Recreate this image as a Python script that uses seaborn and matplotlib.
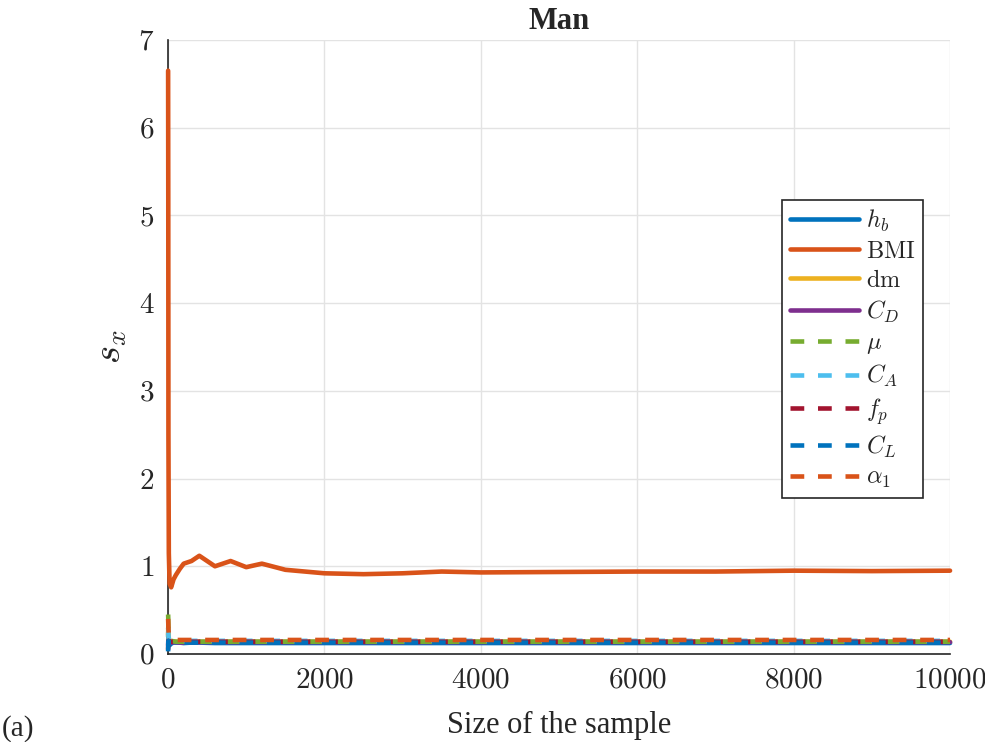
import numpy as np
import pandas as pd
import seaborn as sns
import matplotlib
matplotlib.use("Agg")
import matplotlib.pyplot as plt
from matplotlib.ticker import FuncFormatter, MultipleLocator

# Sample sizes at which the running standard deviation was recorded
sample_size = [1, 3, 5, 10, 20, 40, 70, 100, 150, 200, 300, 400, 600, 800, 1000,
               1200, 1500, 2000, 2500, 3000, 3500, 4000, 5000, 6000, 7000, 8000,
               9000, 10000]

# Running standard deviation s_x for each input variable
s_hb = [0.20, 0.25, 0.18, 0.12, 0.10, 0.12, 0.13, 0.13, 0.13, 0.125, 0.13, 0.13,
        0.125, 0.125, 0.125, 0.125, 0.125, 0.125, 0.125, 0.125, 0.125, 0.125,
        0.125, 0.125, 0.125, 0.125, 0.125, 0.125]
s_bmi = [6.65, 5.20, 2.50, 1.15, 0.80, 0.76, 0.85, 0.90, 0.97, 1.03, 1.06, 1.12,
         1.00, 1.06, 0.99, 1.03, 0.96, 0.92, 0.91, 0.92, 0.94, 0.93, 0.935,
         0.94, 0.94, 0.95, 0.945, 0.95]
s_dm = [0.22, 0.30, 0.25, 0.18, 0.15, 0.14, 0.14, 0.14, 0.14, 0.14, 0.14, 0.14,
        0.14, 0.14, 0.14, 0.14, 0.14, 0.14, 0.14, 0.14, 0.14, 0.14, 0.14, 0.14,
        0.14, 0.14, 0.14, 0.14]
s_cd = [0.10, 0.15, 0.16, 0.14, 0.13, 0.13, 0.135, 0.135, 0.13, 0.13, 0.135,
        0.135, 0.135, 0.135, 0.135, 0.135, 0.135, 0.135, 0.135, 0.135, 0.135,
        0.135, 0.135, 0.135, 0.135, 0.135, 0.135, 0.135]
s_mu = [0.45, 0.40, 0.30, 0.20, 0.16, 0.15, 0.145, 0.14, 0.14, 0.14, 0.14, 0.14,
        0.14, 0.14, 0.14, 0.14, 0.14, 0.14, 0.14, 0.14, 0.14, 0.14, 0.14, 0.14,
        0.14, 0.14, 0.14, 0.14]
s_ca = [0.30, 0.28, 0.22, 0.17, 0.15, 0.15, 0.15, 0.15, 0.15, 0.15, 0.15, 0.15,
        0.15, 0.15, 0.15, 0.15, 0.15, 0.15, 0.15, 0.15, 0.15, 0.15, 0.15, 0.15,
        0.15, 0.15, 0.15, 0.15]
s_fp = [0.05, 0.12, 0.15, 0.14, 0.14, 0.14, 0.14, 0.14, 0.14, 0.14, 0.14, 0.14,
        0.14, 0.14, 0.14, 0.14, 0.14, 0.14, 0.14, 0.14, 0.14, 0.14, 0.14, 0.14,
        0.14, 0.14, 0.14, 0.14]
s_cl = [0.03, 0.10, 0.15, 0.14, 0.13, 0.13, 0.13, 0.13, 0.13, 0.13, 0.13, 0.13,
        0.13, 0.13, 0.13, 0.13, 0.13, 0.13, 0.13, 0.13, 0.13, 0.13, 0.13, 0.13,
        0.13, 0.13, 0.13, 0.13]
s_alpha1 = [0.40, 0.35, 0.28, 0.22, 0.19, 0.17, 0.165, 0.16, 0.16, 0.16, 0.16,
            0.16, 0.16, 0.16, 0.16, 0.16, 0.16, 0.16, 0.16, 0.16, 0.16, 0.16,
            0.16, 0.16, 0.16, 0.16, 0.16, 0.16]

labels = [r"$h_b$", r"$\mathrm{BMI}$", r"$\mathrm{dm}$", r"$C_D$", r"$\mu$",
          r"$C_A$", r"$f_p$", r"$C_L$", r"$\alpha_1$"]
series = [s_hb, s_bmi, s_dm, s_cd, s_mu, s_ca, s_fp, s_cl, s_alpha1]
colors = ["#0072BD", "#D95319", "#EDB120", "#7E2F8E", "#77AC30",
          "#4DBEEE", "#A2142F", "#0072BD", "#D95319"]
dashed = [False, False, False, False, True, True, True, True, True]

df = pd.concat(
    [pd.DataFrame({"n": sample_size, "s": vals, "var": lab})
     for lab, vals in zip(labels, series)],
    ignore_index=True,
)

sns.set_theme(style="white")
plt.rcParams["font.family"] = ["Liberation Serif", "DejaVu Serif"]
plt.rcParams["mathtext.fontset"] = "cm"

fig = plt.figure(figsize=(9.85, 7.42), dpi=100)
ax = fig.add_axes([0.1706, 0.1186, 0.7939, 0.8275])

palette = dict(zip(labels, colors))
dash_map = {lab: ((3, 3) if d else "") for lab, d in zip(labels, dashed)}

sns.lineplot(data=df, x="n", y="s", hue="var", style="var",
             hue_order=labels, style_order=labels,
             palette=palette, dashes=dash_map, estimator=None, sort=True,
             linewidth=3.3, ax=ax, legend=False)

# Lines sit on top of the axis lines and are not cut at the axes edge
for ln in ax.get_lines():
    ln.set_clip_on(False)
    ln.set_zorder(3)

ax.set_xlim(0, 10000)
ax.set_ylim(0, 7)
ax.xaxis.set_major_locator(MultipleLocator(2000))
ax.yaxis.set_major_locator(MultipleLocator(1))
fmt = FuncFormatter(lambda v, p: f"${v:g}$")
ax.xaxis.set_major_formatter(fmt)
ax.yaxis.set_major_formatter(fmt)

ax.grid(True, color="#e3e3e3", linewidth=1.0)
ax.set_axisbelow(True)
for side in ("top", "right"):
    ax.spines[side].set_visible(False)
for side in ("left", "bottom"):
    ax.spines[side].set_color("#262626")
    ax.spines[side].set_linewidth(1.2)
ax.tick_params(axis="both", direction="in", length=6, width=1.5,
               color="black", labelsize=21, pad=10)

ax.set_xlabel("Size of the sample", fontsize=22, labelpad=12)
ax.set_ylabel(r"$s_x$", fontsize=28, labelpad=6)
ax.set_title("Man", fontsize=22, fontweight="bold", pad=8)

handles = ax.get_lines()[:len(labels)]
leg = ax.legend(handles, labels, loc="upper right",
                bbox_to_anchor=(0.9655, 0.739), fontsize=17.5,
                frameon=True, fancybox=False, edgecolor="#262626",
                framealpha=1, handlelength=2.85, handletextpad=0.3,
                labelspacing=0.29, borderpad=0.3, borderaxespad=0)
leg.get_frame().set_linewidth(1.2)
leg.set_zorder(5)

fig.text(0.002, 0.0, "(a)", fontsize=21, ha="left", va="bottom")

fig.savefig("out.png", dpi=100)
